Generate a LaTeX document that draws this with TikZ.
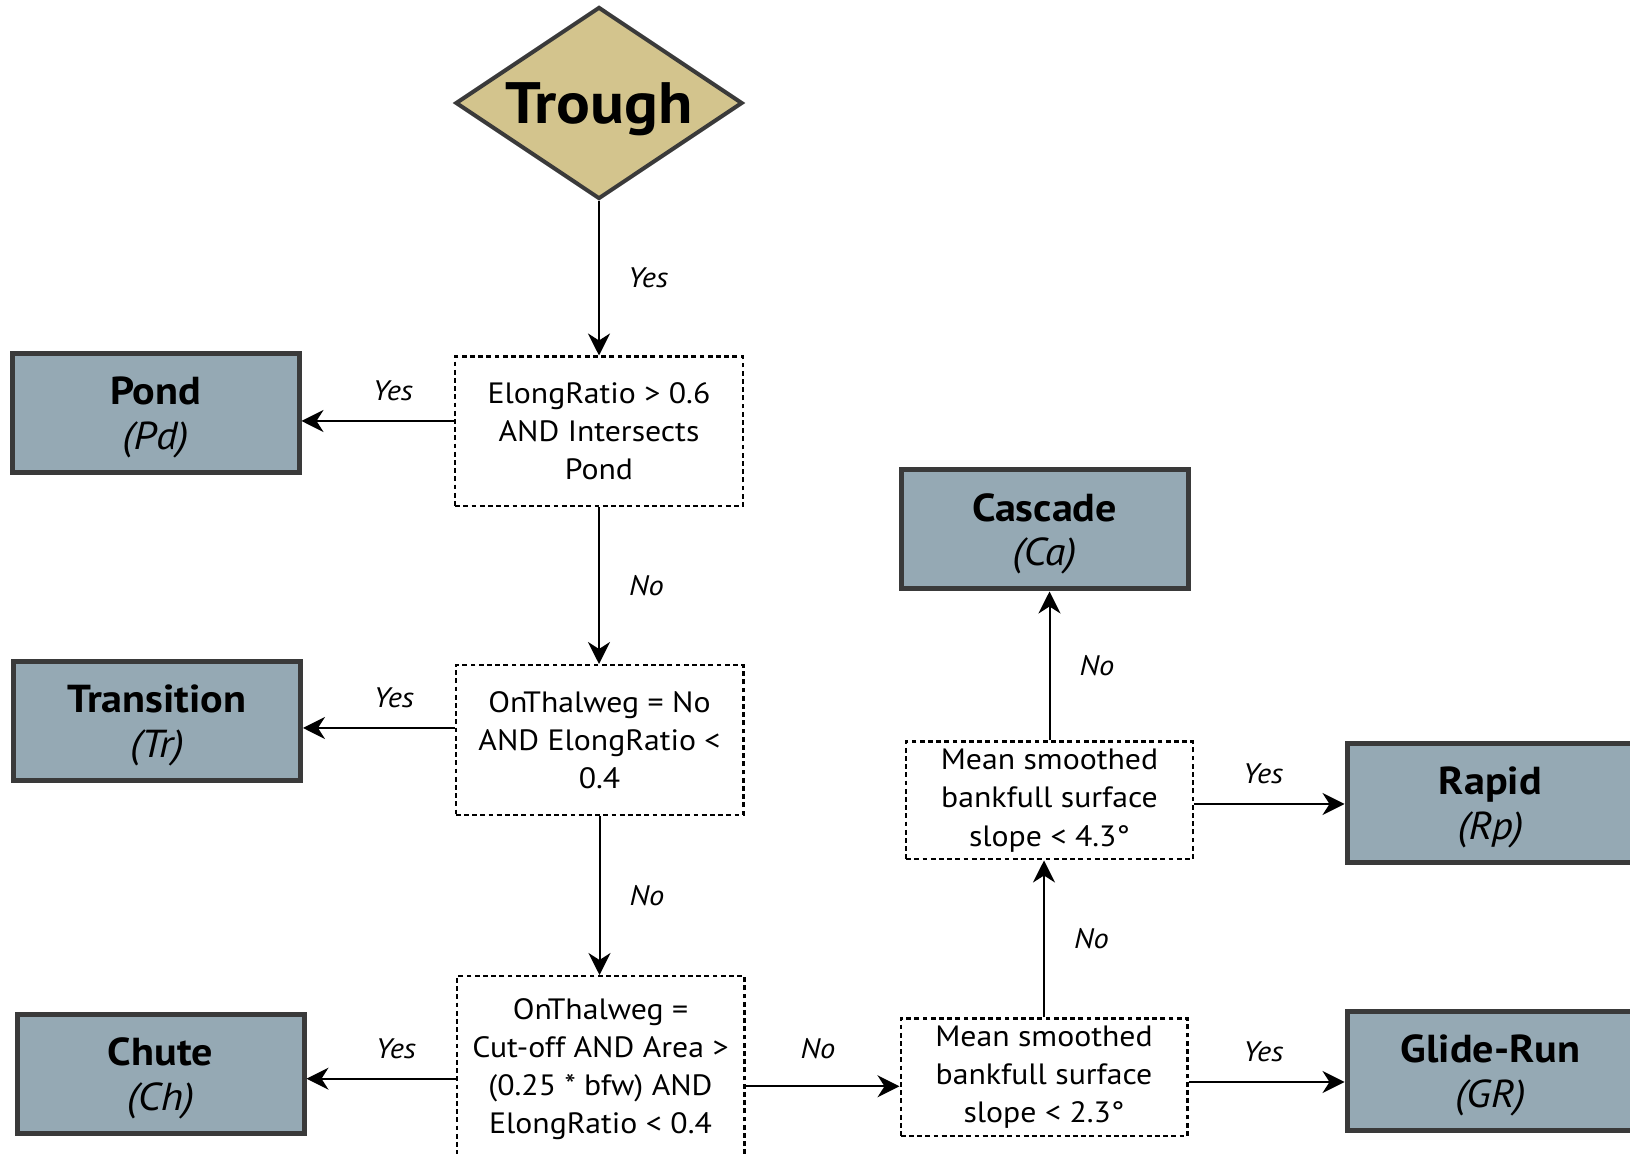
\documentclass[tikz,border=0pt]{standalone}
\usepackage{fontspec}
\setmainfont{PT Sans}[FakeStretch=1.08]
\usepackage{xcolor}
\usepackage{tikz}
\usetikzlibrary{shapes.geometric, arrows.meta, positioning, calc}
\definecolor{slate}{RGB}{149, 169, 180}
\definecolor{sand}{RGB}{211, 196, 141}
\definecolor{edge}{RGB}{58, 58, 58}
\tikzset{
    decision/.style={diamond, draw=edge, fill=sand, line width=2pt, aspect=1.5, minimum width=143.5pt, minimum height=96pt, inner sep=0pt, text depth=0pt, font=\fontsize{29.2pt}{34pt}\selectfont\bfseries},
    unit/.style={rectangle, draw=edge, fill=slate, line width=2.5pt, minimum width=143.5pt, minimum height=59.5pt, align=center, inner sep=0pt, text depth=0pt, font=\fontsize{19.5pt}{22.2pt}\selectfont},
    test/.style={rectangle, draw=black, line width=1.2pt, dash pattern=on 2.4pt off 1.7pt, minimum width=143.8pt, minimum height=74.8pt, align=center, inner sep=0pt, font=\fontsize{14.7pt}{19.1pt}\selectfont},
    slopetest/.style={test, minimum width=143.3pt, minimum height=58.8pt},
    line/.style={draw, -{Stealth[length=11pt, width=11pt, inset=3.5pt]}, line width=1pt, color=black},
    lbl/.style={font=\fontsize{14.1pt}{16pt}\selectfont\itshape, inner sep=0pt}
}

\begin{document}
\begin{tikzpicture}
        \useasboundingbox (0,0) rectangle (815pt,-577pt);

        % Trunk of tests
        \node [decision] (trough) at (299.5pt,-51.5pt) {Trough};
        \node [test, below=77.25pt of trough] (pondtest) {ElongRatio > 0.6\\AND Intersects\\Pond};
        \node [test, below=78.25pt of pondtest, xshift=0.25pt] (transtest) {OnThalweg = No\\AND ElongRatio <\\0.4};
        \node [test, below=79.5pt of transtest, xshift=0.5pt, minimum height=92.8pt] (chutetest) {OnThalweg =\\Cut-off AND Area >\\(0.25 * bfw) AND\\ElongRatio < 0.4};

        % Units on the left
        \node [unit, left=76.25pt of pondtest, yshift=9.1pt] (pond) {\textbf{Pond}\\\textit{(Pd)}};
        \node [unit, left=75.75pt of transtest, yshift=9.5pt] (transition) {\textbf{Transition}\\\textit{(Tr)}};
        \node [unit, left=74.5pt of chutetest, yshift=-2.5pt] (chute) {\textbf{Chute}\\\textit{(Ch)}};

        % Slope tests
        \node [slopetest, right=77pt of chutetest, yshift=-4.15pt] (gentle) {Mean smoothed\\bankfull surface\\slope < 2.3°};
        \node [slopetest, above=78.4pt of gentle, xshift=2.75pt] (steep) {Mean smoothed\\bankfull surface\\slope < 4.3°};

        % Units on the right
        \node [unit, above=74.5pt of steep, xshift=-2.5pt] (cascade) {\textbf{Cascade}\\\textit{(Ca)}};
        \node [unit, right=75.25pt of steep, yshift=-1.25pt] (rapid) {\textbf{Rapid}\\\textit{(Rp)}};
        \node [unit, right=78pt of gentle, yshift=3.15pt] (gliderun) {\textbf{Glide-Run}\\\textit{(GR)}};

        % Connections
        \draw [line] (trough) -- node[lbl, right=14pt] {Yes} (pondtest);
        \draw [line] ([yshift=5.25pt]pondtest.west) -- node[lbl, above=9.5pt, pos=0.4] {Yes} ([yshift=5.25pt]pondtest.west -| pond.east);
        \draw [line] (pondtest.south) -- node[lbl, right=14.5pt] {No} (pondtest.south |- transtest.north);
        \draw [line] ([yshift=6pt]transtest.west) -- node[lbl, above=9.5pt, pos=0.4] {Yes} ([yshift=6pt]transtest.west -| transition.east);
        \draw [line] (transtest.south) -- node[lbl, right=14.5pt] {No} (transtest.south |- chutetest.north);
        \draw [line] ([yshift=-4.85pt]chutetest.west) -- node[lbl, above=9.5pt, pos=0.4] {Yes} ([yshift=-4.85pt]chutetest.west -| chute.east);
        \draw [line] ([yshift=-8.65pt]chutetest.east) -- node[lbl, above=13pt, pos=0.47] {No} ([yshift=-8.65pt]chutetest.east -| gentle.west);

        \draw [line] (gentle.north) -- node[lbl, right=14.5pt] {No} (gentle.north |- steep.south);
        \draw [line] ([yshift=-2.35pt]gentle.east) -- node[lbl, above=9.5pt, pos=0.48] {Yes} ([yshift=-2.35pt]gentle.east -| gliderun.west);
        \draw [line] (steep.north) -- node[lbl, right=14.5pt] {No} (steep.north |- cascade.south);
        \draw [line] ([yshift=-1.75pt]steep.east) -- node[lbl, above=9.5pt, pos=0.46] {Yes} ([yshift=-1.75pt]steep.east -| rapid.west);

    \end{tikzpicture}
\end{document}
